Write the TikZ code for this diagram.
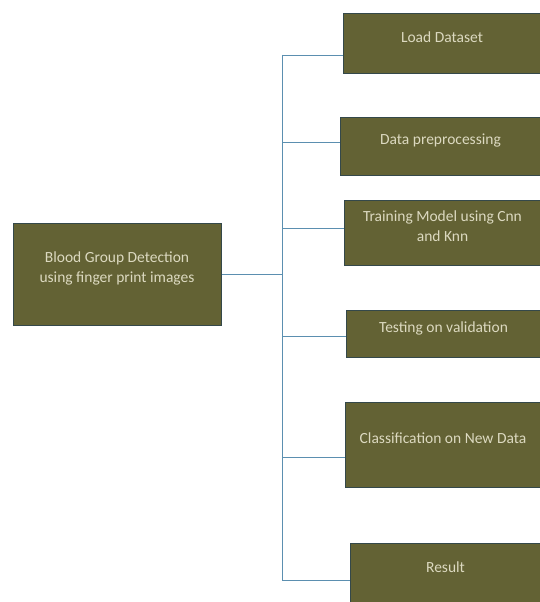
\documentclass[tikz,border=0pt]{standalone}
\usepackage{fontspec}
\setmainfont{Carlito}
\definecolor{boxfill}{HTML}{636234}
\definecolor{boxline}{HTML}{34484A}
\definecolor{boxtext}{HTML}{DCD9C0}
\definecolor{linkline}{HTML}{5B8FB0}

\begin{document}
\begin{tikzpicture}[x=1pt, y=-1pt,
  boxnode/.style={rectangle, draw=boxline, fill=boxfill, text=boxtext, line width=1pt, align=center, inner sep=0pt, text depth=13pt, font=\fontsize{15.5}{20}\selectfont},
  link/.style={draw=linkline, line width=0.9pt},
]

\useasboundingbox (0,0) rectangle (539,602);

\node[boxnode, minimum width=208pt, minimum height=102pt] (main) at (117,274) {Blood Group Detection\\using finger print images};

\node[boxnode, minimum width=198pt, minimum height=59pt] (load) at (442,43.5) {Load Dataset};
\node[boxnode, minimum width=201pt, minimum height=58pt] (prep) at (440.5,146) {Data preprocessing};
\node[boxnode, minimum width=197pt, minimum height=65pt] (train) at (442.5,232.5) {Training Model using Cnn\\and Knn};
\node[boxnode, minimum width=195pt, minimum height=47pt] (test) at (443.5,333.5) {Testing on validation};
\node[boxnode, minimum width=196pt, minimum height=85pt] (classify) at (443,444.5) {Classification on New Data};
\node[boxnode, minimum width=191pt, minimum height=61pt] (result) at (445.5,573.5) {Result};

\coordinate (jmain) at (282,274);
\coordinate (jload) at (282,55);
\coordinate (jprep) at (282,142);
\coordinate (jtrain) at (282,228);
\coordinate (jtest) at (282,336);
\coordinate (jclassify) at (282,457);
\coordinate (jresult) at (282,580);

\draw[link] (main.east) -- (jmain);
\draw[link] (jload) -- (jresult);

\draw[link] (jload) -- (jload -| load.west);
\draw[link] (jprep) -- (jprep -| prep.west);
\draw[link] (jtrain) -- (jtrain -| train.west);
\draw[link] (jtest) -- (jtest -| test.west);
\draw[link] (jclassify) -- (jclassify -| classify.west);
\draw[link] (jresult) -- (jresult -| result.west);

\end{tikzpicture}
\end{document}
